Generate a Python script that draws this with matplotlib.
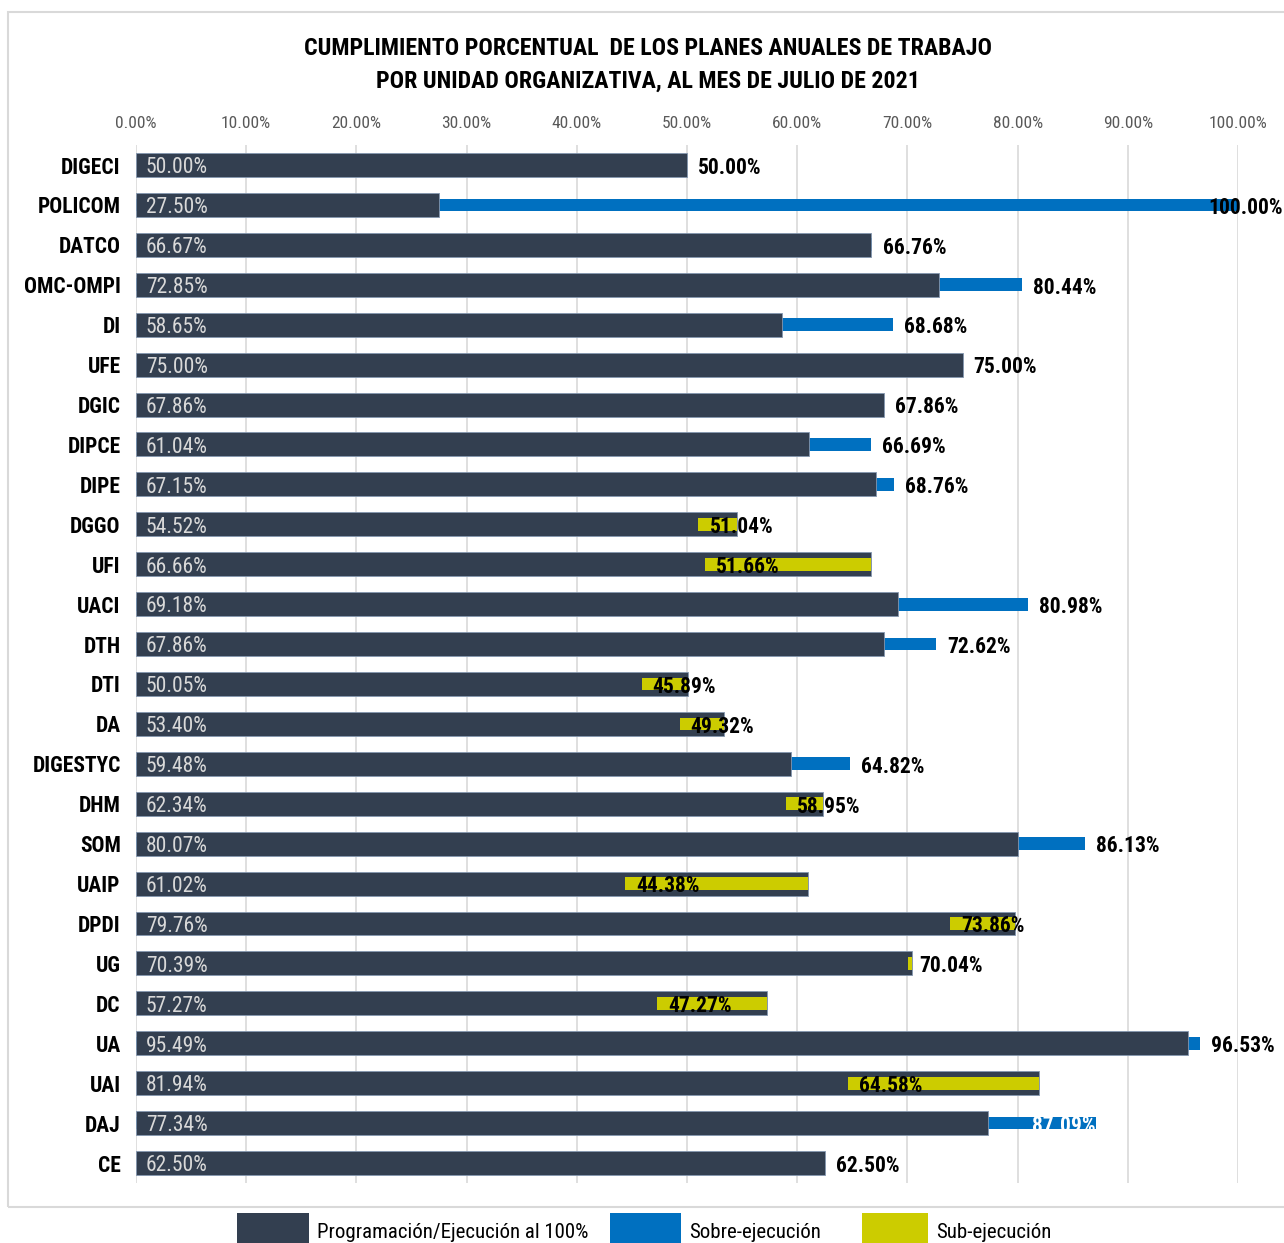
import numpy as np
import matplotlib
matplotlib.use('Agg')
from matplotlib import pyplot as plt
from matplotlib.patches import Rectangle

plt.rcParams['font.family'] = ['Liberation Sans Narrow', 'Roboto Condensed', 'DejaVu Sans']

# datos (porcentajes)
unidades = ['DIGECI', 'POLICOM', 'DATCO', 'OMC-OMPI', 'DI', 'UFE', 'DGIC', 'DIPCE', 'DIPE',
            'DGGO', 'UFI', 'UACI', 'DTH', 'DTI', 'DA', 'DIGESTYC', 'DHM', 'SOM', 'UAIP',
            'DPDI', 'UG', 'DC', 'UA', 'UAI', 'DAJ', 'CE']
programado = [50.00, 27.50, 66.67, 72.85, 58.65, 75.00, 67.86, 61.04, 67.15,
              54.52, 66.66, 69.18, 67.86, 50.05, 53.40, 59.48, 62.34, 80.07, 61.02,
              79.76, 70.39, 57.27, 95.49, 81.94, 77.34, 62.50]
ejecutado = [50.00, 100.00, 66.76, 80.44, 68.68, 75.00, 67.86, 66.69, 68.76,
             51.04, 51.66, 80.98, 72.62, 45.89, 49.32, 64.82, 58.95, 86.13, 44.38,
             73.86, 70.04, 47.27, 96.53, 64.58, 87.09, 62.50]
ticks = list(range(0, 101, 10))
leyenda = ['Programación/Ejecución al 100%', 'Sobre-ejecución', 'Sub-ejecución']

c_prog = '#333F50'
c_sobre = '#0070C0'
c_sub = '#CCCC00'

prog = np.array(programado)
ejec = np.array(ejecutado)
y = np.arange(len(unidades))
dy = 0.07  # bajar un poco los textos

fig = plt.figure(figsize=(12.84, 12.43), dpi=100)
ax = fig.add_axes([0.1059, 0.0483, 0.8583, 0.835])

# sobre-ejecucion: barra delgada detras
sobre = ejec > prog
ax.barh(y[sobre], ejec[sobre], height=0.32, color=c_sobre, zorder=2)
# barra principal
ax.barh(y, prog, height=0.6, color=c_prog, edgecolor='#8497B0', linewidth=0.6, zorder=3)
# sub-ejecucion: desde lo ejecutado hasta lo programado
sub = ejec < prog
ax.barh(y[sub], prog[sub] - ejec[sub], left=ejec[sub], height=0.32, color=c_sub, zorder=4)

for i in range(len(unidades)):
    ax.text(0.9, y[i] + dy, '%.2f%%' % prog[i], va='center', ha='left', color='#D9D9D9',
            fontsize=15.5, zorder=6)
    lab = '%.2f%%' % ejec[i]
    if unidades[i] == 'DAJ':
        ax.text(ejec[i], y[i] + dy, lab, va='center', ha='right', color='white',
                fontsize=15.5, fontweight='bold', zorder=6)
    elif ejec[i] >= 99:
        ax.text(104.1, y[i] + dy, lab, va='center', ha='right', color='black',
                fontsize=15.5, fontweight='bold', zorder=6, clip_on=False)
    else:
        ax.text(ejec[i] + 1.0, y[i] + dy, lab, va='center', ha='left', color='black',
                fontsize=15.5, fontweight='bold', zorder=6)

ax.set_xlim(0, 100)
ax.set_ylim(len(unidades) - 0.5, -0.5)
ax.set_yticks(y)
ax.set_yticklabels(unidades, fontsize=15.5, fontweight='bold')
ax.set_xticks(ticks)
ax.set_xticklabels(['%.2f%%' % t for t in ticks], fontsize=12.5, color='#595959')
ax.xaxis.tick_top()
ax.tick_params(axis='x', length=0, pad=10)
ax.tick_params(axis='y', length=0, pad=11)
ax.grid(axis='x', color='#D9D9D9', linewidth=1.2, zorder=0)
ax.set_axisbelow(True)
for s in ax.spines.values():
    s.set_visible(False)

fig.text(0.505, 0.961, 'CUMPLIMIENTO PORCENTUAL  DE LOS PLANES ANUALES DE TRABAJO',
         ha='center', va='center', fontsize=17.2, fontweight='bold')
fig.text(0.505, 0.935, 'POR UNIDAD ORGANIZATIVA, AL MES DE JULIO DE 2021',
         ha='center', va='center', fontsize=17.2, fontweight='bold')

# marco exterior
fig.add_artist(Rectangle((8 / 1284, 1 - 1207 / 1243), 1.2, 1207 / 1243 - 12 / 1243,
                         transform=fig.transFigure, fill=False, edgecolor='#D9D9D9',
                         linewidth=1.5))

# leyenda manual
colores = [c_prog, c_sobre, c_sub]
px = [237, 610, 862]
pw = [72, 71, 66]
for k in range(3):
    fig.add_artist(Rectangle((px[k] / 1284, 0), pw[k] / 1284, 30 / 1243,
                             transform=fig.transFigure, facecolor=colores[k], edgecolor='none'))
    fig.text((px[k] + pw[k] + 8) / 1284, 11 / 1243, leyenda[k], ha='left', va='center',
             fontsize=15)

fig.savefig('out.png', dpi=100)
